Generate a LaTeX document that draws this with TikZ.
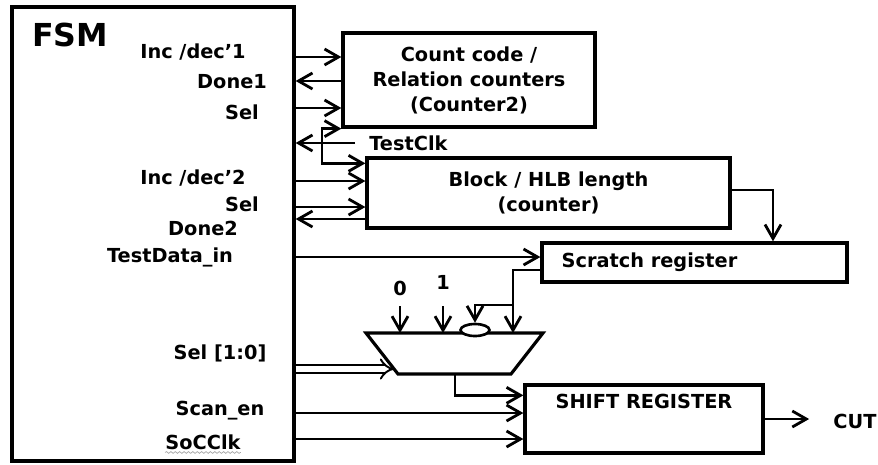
\documentclass[tikz,border=0pt]{standalone}
\usepackage{fontspec}
\setmainfont{DejaVu Sans}
\usetikzlibrary{arrows.meta,positioning,shapes.geometric,decorations.pathmorphing}
\tikzset{
  blockbox/.style={rectangle, draw=black, line width=1.9pt, fill=white, align=center, inner sep=0pt},
  portlbl/.style={inner sep=0pt, align=center},
  sigarrow/.style={-{Straight Barb[length=2.8mm,width=3.2mm,line width=1.6pt]}, line width=1.5pt},
  busarrow/.style={-{Implies[length=2.2mm]}, double, double distance=3pt, line width=1.1pt}
}
\begin{document}
\begin{tikzpicture}[x=0.02cm, y=-0.02cm, font=\fontsize{11}{14.2}\selectfont\bfseries]
\useasboundingbox (0,0) rectangle (878,464);
% blocks
\node[blockbox, minimum width=5.64cm, minimum height=9.08cm] (fsm) at (153,234) {};
\node[portlbl, font=\fontsize{18}{20}\selectfont\bfseries] (fsmname) at (70,35) {FSM};
\node[blockbox, minimum width=5.04cm, minimum height=1.88cm] (cnt) at (469,80) {Count code /\\Relation counters\\(Counter2)};
\node[blockbox, minimum width=7.26cm, minimum height=1.40cm] (blk) at (548.5,193) {Block / HLB length\\(counter)};
\node[blockbox, minimum width=6.10cm, minimum height=0.78cm] (scr) at (694.5,262.5) {};
\node[portlbl, right=0.42cm of scr.west] (scrtxt) {Scratch register};
\node[blockbox, minimum width=4.76cm, minimum height=1.36cm] (shft) at (644,419) {};
\node[portlbl, below=0.2cm of shft.north] (shfttxt) {SHIFT REGISTER};
% multiplexer
\coordinate (muxtl) at (366,333);
\coordinate (muxtr) at (543,333);
\coordinate (muxbr) at (511,374);
\coordinate (muxbl) at (398,374);
\coordinate (muxout) at (455,374);
\draw[line width=1.8pt, fill=white] (muxtl) -- (muxtr) -- (muxbr) -- (muxbl) -- cycle;
\node[ellipse, draw=black, line width=1.5pt, fill=white, minimum width=0.58cm,
  minimum height=0.24cm, inner sep=0pt] (bub) at (475,330) {};
% FSM ports
\node[portlbl] (linc1) at (193,52) {Inc /dec’1};
\node[portlbl] (ldone1) at (232,82) {Done1};
\node[portlbl] (lsel1) at (242,112) {Sel};
\node[portlbl] (linc2) at (193,178) {Inc /dec’2};
\node[portlbl] (lsel2) at (242,204) {Sel};
\node[portlbl] (ldone2) at (203,228) {Done2};
\node[portlbl] (ltdi) at (170,257) {TestData\_in};
\node[portlbl] (lselbus) at (220,353) {Sel [1:0]};
\node[portlbl] (lscan) at (220,411) {Scan\_en};
\node[portlbl] (lsoc) at (203,442) {SoCClk};
\draw[gray!70, line width=0.4pt, decorate, decoration={snake, amplitude=0.5pt, segment length=2.5pt}]
  ([yshift=-1.5pt]lsoc.south west) -- ([yshift=-1.5pt]lsoc.south east);
\coordinate (pInc1) at (fsm.east |- 0,57);
\coordinate (pDone1) at (fsm.east |- 0,81);
\coordinate (pSel1) at (fsm.east |- 0,108);
\coordinate (pInc2) at (fsm.east |- 0,181);
\coordinate (pSel2) at (fsm.east |- 0,207);
\coordinate (pDone2) at (fsm.east |- 0,219);
\coordinate (pTdi) at (fsm.east |- 0,257);
\coordinate (pSelBus) at (fsm.east |- 0,369);
\coordinate (pScan) at (fsm.east |- 0,413);
\coordinate (pSoc) at (fsm.east |- 0,439);
% counter links
\draw[sigarrow] (pInc1) -- (pInc1 -| cnt.west);
\draw[sigarrow] (pDone1 -| cnt.west) -- (pDone1);
\draw[sigarrow] (pSel1) -- (pSel1 -| cnt.west);
\draw[sigarrow] (pInc2) -- (pInc2 -| blk.west);
\draw[sigarrow] (pSel2) -- (pSel2 -| blk.west);
\draw[sigarrow] (pDone2 -| blk.west) -- (pDone2);
% test clock
\coordinate (tclksrc) at (355,143);
\coordinate (tbr) at (322,143);
\node[portlbl, right=0.28cm of tclksrc] (tclk) {TestClk};
\draw[sigarrow] (tclksrc) -- (tclksrc -| fsm.east);
\draw[sigarrow] (tbr) |- (cnt.south west);
\draw[sigarrow] (tbr) |- ([yshift=-0.14cm]blk.north west);
% data path
\draw[sigarrow] ([yshift=0.06cm]blk.east) -| ([xshift=1.57cm]scr.north);
\draw[sigarrow] (pTdi) -- (pTdi -| scr.west);
\coordinate (sOut) at ([yshift=-0.15cm]scr.west);
\coordinate (tap) at (513,305);
\draw[sigarrow] (sOut) -| (tap |- muxtl);
\draw[sigarrow] (tap) -| (bub.north);
\coordinate (in0) at (400,306);
\coordinate (in1) at (443,306);
\node[portlbl, above=0.2cm of in0] (lzero) {0};
\node[portlbl, above=0.32cm of in1] (lone) {1};
\draw[sigarrow] (in0) -- (in0 |- muxtl);
\draw[sigarrow] (in1) -- (in1 |- muxtl);
\coordinate (muxsel) at (394,369);
\draw[busarrow] (pSelBus) -- (muxsel);
\draw[sigarrow] (muxout) |- ([yshift=-0.24cm]shft.north west);
\draw[sigarrow] (pScan) -- (pScan -| shft.west);
\draw[sigarrow] (pSoc) -- (pSoc -| shft.west);
\node[portlbl] (cut) at (855,421) {CUT};
\draw[sigarrow] (shft.east) -- ([xshift=-0.48cm]cut.west |- shft.east);
\end{tikzpicture}
\end{document}
